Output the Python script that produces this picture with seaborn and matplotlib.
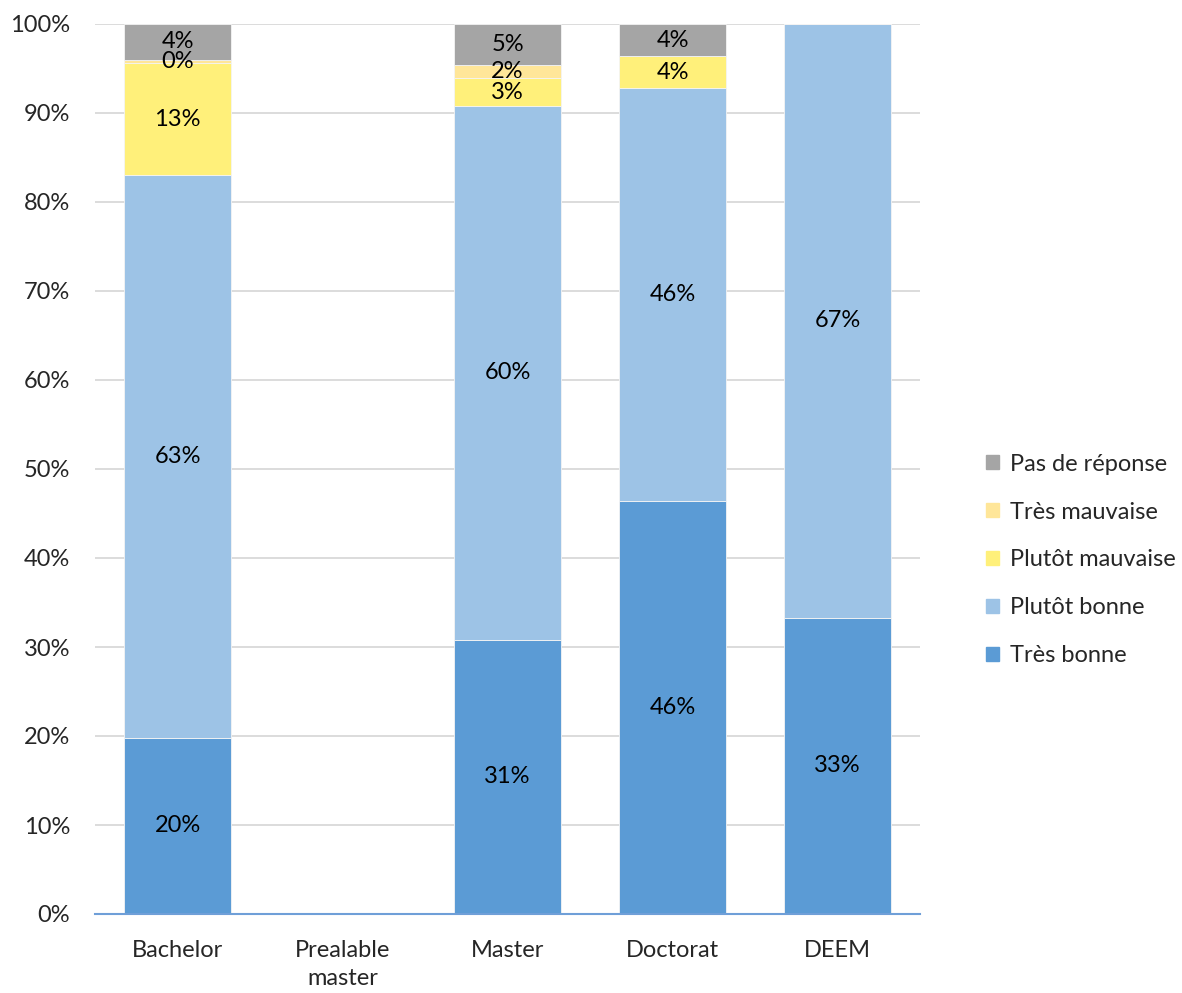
import matplotlib
matplotlib.use("Agg")
import matplotlib.pyplot as plt
import matplotlib.patches as mpatches
import seaborn as sns
import numpy as np

categories = ["Bachelor", "Prealable\nmaster", "Master", "Doctorat", "DEEM"]
series = ["Très bonne", "Plutôt bonne", "Plutôt mauvaise", "Très mauvaise", "Pas de réponse"]
tres_bonne = [19.8, 0, 30.8, 46.4, 33.3]
plutot_bonne = [63.2, 0, 60.0, 46.4, 66.7]
plutot_mauvaise = [12.6, 0, 3.1, 3.6, 0]
tres_mauvaise = [0.4, 0, 1.5, 0, 0]
pas_de_reponse = [4.0, 0, 4.6, 3.6, 0]
yticks = list(range(0, 101, 10))

colors = ["#5B9BD5", "#9DC3E6", "#FFF07A", "#FFE699", "#A5A5A5"]
values = [tres_bonne, plutot_bonne, plutot_mauvaise, tres_mauvaise, pas_de_reponse]

sns.set_theme(style="white")
plt.rcParams["font.family"] = ["Lato", "DejaVu Sans"]

FS = 17
fig = plt.figure(figsize=(11.82, 9.93), dpi=100)
ax = fig.add_axes([95/1182, 79/993, 825/1182, 890/993])

bottom = np.zeros(len(categories))
for name, vals, col in zip(series, values, colors):
    v = np.array(vals, dtype=float)
    sns.barplot(x=categories, y=v, bottom=bottom, color=col, width=0.645,
                errorbar=None, ax=ax, saturation=1, order=categories, zorder=3,
                linewidth=0.6, edgecolor="#F4F4F4")
    for i, (b, val) in enumerate(zip(bottom, v)):
        if val > 0:
            ax.text(i, b + val / 2, f"{val:.0f}%", ha="center", va="center",
                    fontsize=FS, color="black", zorder=5)
    bottom = bottom + v

ax.set_ylim(0, 100)
ax.set_xlim(-0.5, len(categories) - 0.5)
ax.set_yticks(yticks)
ax.set_yticklabels([f"{t}%" for t in yticks], fontsize=FS)
ax.tick_params(axis="x", labelsize=FS, pad=19, length=0)
ax.tick_params(axis="y", length=0, pad=18)
for lab in ax.get_xticklabels():
    lab.set_linespacing(1.4)
ax.yaxis.grid(True, color="#D9D9D9", linewidth=1.3, zorder=0)
ax.set_axisbelow(True)
for s in ["top", "right", "left"]:
    ax.spines[s].set_visible(False)
ax.spines["bottom"].set_color("#6F9FD8")
ax.spines["bottom"].set_linewidth(1.5)
ax.spines["bottom"].set_zorder(6)

leg_handles = [mpatches.Patch(color=c, label=s) for s, c in zip(series, colors)][::-1]
fig.legend(handles=leg_handles, loc="center left", bbox_to_anchor=(965/1182, (993-560)/993),
           frameon=False, fontsize=FS, labelspacing=1.14, handlelength=0.55,
           handleheight=0.55, handletextpad=0.45)

fig.savefig("out.png", dpi=100)
